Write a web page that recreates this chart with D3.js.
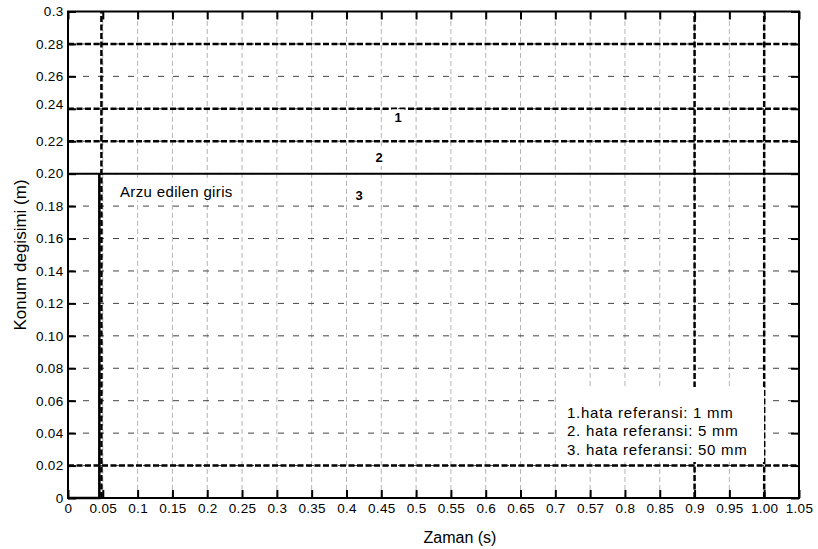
<!DOCTYPE html>
<html>
<head>
<meta charset="utf-8">
<script src="https://cdn.jsdelivr.net/npm/d3@7"></script>
<style>
  body { margin: 0; background: #fff; }
  text { font-family: "Liberation Sans", Arial, sans-serif; fill: #000; }
</style>
</head>
<body>
<div id="container"></div>
<script>
// tick values and their labels (labels copied as printed, incl. "0.57")
const xTicks = [0, 0.05, 0.1, 0.15, 0.2, 0.25, 0.3, 0.35, 0.4, 0.45, 0.5, 0.55, 0.6, 0.65, 0.7, 0.75, 0.8, 0.85, 0.9, 0.95, 1.0, 1.05];
const xTickLabels = ["0", "0.05", "0.1", "0.15", "0.2", "0.25", "0.3", "0.35", "0.4", "0.45", "0.5", "0.55", "0.6", "0.65", "0.7", "0.57", "0.8", "0.85", "0.9", "0.95", "1.00", "1.05"];
const yTicks = [0, 0.02, 0.04, 0.06, 0.08, 0.1, 0.12, 0.14, 0.16, 0.18, 0.2, 0.22, 0.24, 0.26, 0.28, 0.3];
const yTickLabels = ["0", "0.02", "0.04", "0.06", "0.08", "0.10", "0.12", "0.14", "0.16", "0.18", "0.20", "0.22", "0.24", "0.26", "0.28", "0.3"];

// desired input (solid) and the step edge
const desiredX = [0, 1.05];
const desiredY = [0.2, 0.2];
const stepX = [0, 0.045, 0.045];
const stepY = [0, 0, 0.2];

// heavy dashed response lines
const heavyLevels = [0.28, 0.24, 0.22, 0.02];
const heavyTimes = [0.048, 0.9, 1.0];

const curveNames = ["1", "2", "3"];
const curveNameX = [0.474, 0.447, 0.418];
const curveNameY = [0.2317, 0.2072, 0.1836];

const legendLines = ["1.hata referansi: 1 mm", "2. hata referansi: 5 mm", "3. hata referansi: 50 mm"];

function draw() {
    const width = 818;
    const height = 549;
    const margin = {left: 68, right: 19, top: 11.5, bottom: 51};

    const svg = d3.select('#container')
        .append('svg')
        .attr('width', width)
        .attr('height', height);

    const x = d3.scaleLinear().domain([0, 1.05]).range([margin.left, width - margin.right]);
    const y = d3.scaleLinear().domain([0, 0.3]).range([height - margin.bottom, margin.top]);

    // grid
    svg.append("g").selectAll("line")
        .data(xTicks.slice(1, -1))
        .join("line")
        .attr("x1", d => x(d)).attr("x2", d => x(d))
        .attr("y1", y(0)).attr("y2", y(0.3))
        .attr("stroke", "#b4b4b4")
        .attr("stroke-width", 1)
        .attr("stroke-dasharray", "5,3");

    svg.append("g").selectAll("line")
        .data(yTicks.slice(1, -1))
        .join("line")
        .attr("x1", x(0)).attr("x2", x(1.05))
        .attr("y1", d => y(d)).attr("y2", d => y(d))
        .attr("stroke", "#444")
        .attr("stroke-width", 1)
        .attr("stroke-dasharray", "6,9");

    const line = d3.line().x(d => x(d[0])).y(d => y(d[1]));

    // desired input
    svg.append("path")
        .attr("d", line(d3.zip(desiredX, desiredY)))
        .attr("fill", "none").attr("stroke", "#000").attr("stroke-width", 2);
    svg.append("path")
        .attr("d", line(d3.zip(stepX, stepY)))
        .attr("fill", "none").attr("stroke", "#000").attr("stroke-width", 2.5);

    // heavy dashed responses
    svg.append("g").selectAll("line")
        .data(heavyLevels)
        .join("line")
        .attr("x1", x(0)).attr("x2", x(1.05))
        .attr("y1", d => y(d)).attr("y2", d => y(d))
        .attr("stroke", "#000")
        .attr("stroke-width", 2.5)
        .attr("stroke-dasharray", "6,2.5");

    svg.append("g").selectAll("line")
        .data(heavyTimes)
        .join("line")
        .attr("x1", d => x(d)).attr("x2", d => x(d))
        .attr("y1", y(0)).attr("y2", y(0.3))
        .attr("stroke", "#000")
        .attr("stroke-width", 2.5)
        .attr("stroke-dasharray", "6,2.5");

    // axes box
    svg.append("rect")
        .attr("x", x(0)).attr("y", y(0.3))
        .attr("width", x(1.05) - x(0)).attr("height", y(0) - y(0.3))
        .attr("fill", "none").attr("stroke", "#000").attr("stroke-width", 2);

    const tickLen = 8;
    const xAxisBottom = d3.axisBottom(x).tickValues(xTicks)
        .tickFormat((d, i) => xTickLabels[i]).tickSizeInner(-tickLen).tickSizeOuter(0).tickPadding(5.5);
    const gx = svg.append("g").attr("transform", `translate(0,${y(0)})`).call(xAxisBottom);
    const xAxisTop = d3.axisTop(x).tickValues(xTicks).tickFormat("").tickSizeInner(-tickLen).tickSizeOuter(0);
    const gxt = svg.append("g").attr("transform", `translate(0,${y(0.3)})`).call(xAxisTop);

    const yAxisLeft = d3.axisLeft(y).tickValues(yTicks)
        .tickFormat((d, i) => yTickLabels[i]).tickSizeInner(-tickLen).tickSizeOuter(0).tickPadding(4.5);
    const gy = svg.append("g").attr("transform", `translate(${x(0)},0)`).call(yAxisLeft);
    const yAxisRight = d3.axisRight(y).tickValues(yTicks).tickFormat("").tickSizeInner(-tickLen).tickSizeOuter(0);
    const gyr = svg.append("g").attr("transform", `translate(${x(1.05)},0)`).call(yAxisRight);

    [gx, gxt, gy, gyr].forEach(g => {
        g.select(".domain").remove();
        g.selectAll(".tick line").attr("stroke", "#000").attr("stroke-width", 2);
        g.selectAll("text").attr("font-size", 13.5).attr("font-family", "Liberation Sans, Arial, sans-serif")
            .attr("fill", "#222").attr("letter-spacing", 0.3);
    });
    gy.selectAll(".tick").filter(d => d === 0.24).select("text").attr("y", -5);

    // axis titles
    svg.append("text")
        .text("Zaman (s)")
        .attr("x", 460)
        .attr("y", 543)
        .attr("text-anchor", "middle")
        .attr("font-size", 16);

    svg.append("text")
        .text("Konum degisimi (m)")
        .attr("transform", `translate(26,255) rotate(-90)`)
        .attr("text-anchor", "middle")
        .attr("font-size", 17);

    // text with white background (matlab text boxes)
    const boxed = (g, pad) => {
        g.each(function() {
            const b = this.getBBox();
            d3.select(this.parentNode).insert("rect", () => this)
                .attr("x", b.x - pad).attr("y", b.y - 1)
                .attr("width", b.width + 2 * pad).attr("height", b.height + 2)
                .attr("fill", "#fff");
        });
    };

    const arzu = svg.append("g").append("text")
        .text("Arzu edilen giris")
        .attr("x", 120)
        .attr("y", 196.5)
        .attr("font-size", 15)
        .attr("letter-spacing", 0.35);
    boxed(arzu, 3);

    const names = svg.append("g").selectAll("text")
        .data(curveNames)
        .join("text")
        .text(d => d)
        .attr("x", (d, i) => x(curveNameX[i]))
        .attr("y", (d, i) => y(curveNameY[i]))
        .attr("text-anchor", "middle")
        .attr("font-size", 13)
        .attr("font-weight", "bold");
    boxed(names, 3);

    // legend text box
    const lg = svg.append("g");
    lg.append("rect")
        .attr("x", 558).attr("y", 387)
        .attr("width", 206).attr("height", 75)
        .attr("fill", "#fff");
    lg.selectAll("text")
        .data(legendLines)
        .join("text")
        .text(d => d)
        .attr("x", 567)
        .attr("y", (d, i) => 417.7 + i * 18.7)
        .attr("font-size", 15)
        .attr("letter-spacing", 0.75);
}

draw();
</script>
</body>
</html>
